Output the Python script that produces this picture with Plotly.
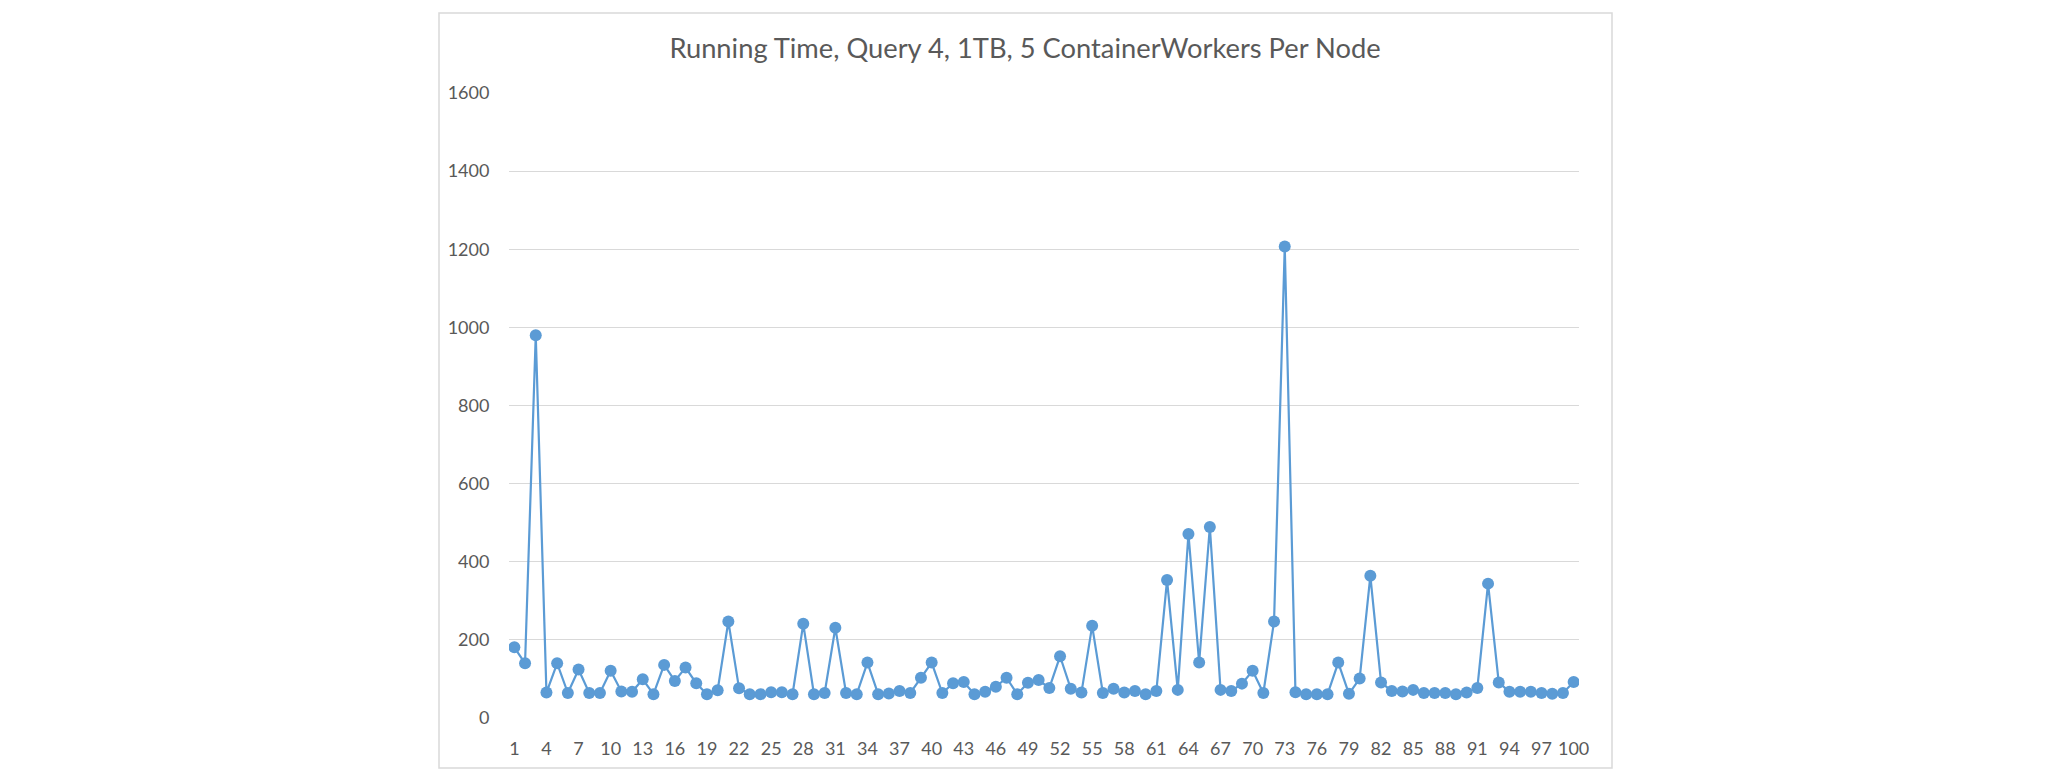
import plotly.graph_objects as go

runs = list(range(1, 101))
running_time = [
    181, 140, 980, 65, 140, 64, 124, 64, 64, 121,
    68, 67, 99, 61, 136, 95, 129, 89, 61, 71,
    247, 76, 61, 61, 66, 66, 61, 241, 61, 64,
    231, 64, 61, 142, 61, 63, 69, 64, 103, 142,
    64, 89, 92, 61, 67, 80, 103, 61, 90, 97,
    77, 158, 75, 65, 236, 64, 75, 65, 69, 61,
    69, 353, 72, 471, 142, 489, 72, 69, 88, 121,
    64, 247, 1207, 66, 61, 61, 61, 142, 62, 101,
    364, 91, 69, 68, 72, 64, 64, 64, 61, 65,
    77, 344, 91, 67, 67, 67, 64, 62, 64, 92,
]
x_tick_vals = list(range(1, 101, 3))
y_tick_vals = [0, 200, 400, 600, 800, 1000, 1200, 1400, 1600]
title_text = "Running Time, Query 4, 1TB, 5 ContainerWorkers Per Node"

W, H = 2047, 782
L, R, T, B = 509, 1579, 93, 718
pw, ph = R - L, B - T

fig = go.Figure()
fig.add_trace(go.Scatter(
    x=runs, y=running_time, mode="lines+markers",
    line=dict(color="#5b9bd5", width=2.2),
    marker=dict(color="#5b9bd5", size=12),
    showlegend=False, hoverinfo="x+y",
))

# outer chart border
bx0, bx1, by0, by1 = 439, 1612, 13, 768
fig.add_shape(type="rect", xref="paper", yref="paper",
              x0=(bx0 - L) / pw, x1=(bx1 - L) / pw,
              y0=(B - by1) / ph, y1=(B - by0) / ph,
              line=dict(color="#d9d9d9", width=1.5), fillcolor="rgba(0,0,0,0)",
              layer="below")

fig.update_layout(
    width=W, height=H,
    margin=dict(l=L, r=W - R, t=T, b=H - B, pad=0),
    paper_bgcolor="white", plot_bgcolor="white",
    font=dict(family="Lato", color="#595959", size=18),
    title=dict(text=title_text, x=1025 / W, xanchor="center",
               y=1 - 48 / H, yanchor="middle",
               font=dict(family="Lato", size=27.3, color="#595959")),
    xaxis=dict(range=[0.5, 100.5], tickmode="array", tickvals=x_tick_vals,
               ticktext=[str(v) for v in x_tick_vals],
               showgrid=False, zeroline=False, showline=False,
               ticks="outside", ticklen=14, tickcolor="rgba(0,0,0,0)",
               tickfont=dict(size=18, color="#595959")),
    yaxis=dict(range=[0, 1600], tickmode="array", tickvals=y_tick_vals,
               showgrid=True, gridcolor="#d9d9d9", gridwidth=1.3,
               zeroline=False, showline=False,
               ticks="outside", ticklen=15, tickcolor="rgba(0,0,0,0)",
               tickfont=dict(size=18, color="#595959")),
)

fig.write_html("out.html")
